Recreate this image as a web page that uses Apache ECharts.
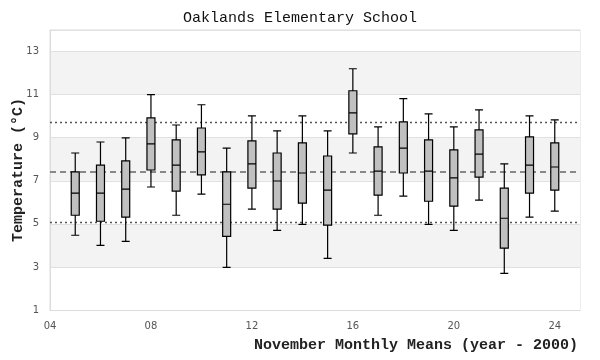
<!DOCTYPE html>
<html>
<head>
<meta charset="utf-8">
<script src="https://cdn.jsdelivr.net/npm/echarts@6/dist/echarts.min.js"></script>
<style>html,body{margin:0;padding:0;background:#fff}#c{width:600px;height:360px}</style>
</head>
<body>
<div id="c"></div>
<script>
const years = [5, 6, 7, 8, 9, 10, 11, 12, 13, 14, 15, 16, 17, 18, 19, 20, 21, 22, 23, 24];
const whiskerLow  = [4.47, 4.00, 4.19, 6.71, 5.40, 6.38, 2.98, 5.68, 4.70, 4.98, 3.40, 8.29, 5.40, 6.29, 4.98, 4.70, 6.10, 2.70, 5.31, 5.59];
const quartile1   = [5.40, 5.12, 5.31, 7.50, 6.52, 7.27, 4.42, 6.66, 5.68, 5.96, 4.94, 9.18, 6.33, 7.36, 6.05, 5.82, 7.17, 3.87, 6.43, 6.57];
const medians     = [6.43, 6.43, 6.61, 8.71, 7.73, 8.34, 5.91, 7.78, 6.99, 7.36, 6.57, 10.15, 7.45, 8.52, 7.45, 7.13, 8.24, 5.26, 7.73, 7.64];
const quartile3   = [7.41, 7.73, 7.92, 9.92, 8.90, 9.45, 7.41, 8.85, 8.29, 8.76, 8.15, 11.18, 8.57, 9.73, 8.90, 8.43, 9.36, 6.66, 9.04, 8.76];
const whiskerHigh = [8.29, 8.80, 8.99, 11.00, 9.59, 10.53, 8.52, 10.01, 9.32, 10.01, 9.32, 12.20, 9.50, 10.81, 10.11, 9.50, 10.29, 7.78, 10.01, 9.83];
const meanLine = [7.40];
const sigmaLines = [9.70, 5.08];
const xTickLabels = { 4: '04', 8: '08', 12: '12', 16: '16', 20: '20', 24: '24' };
const yTickLabels = [1, 3, 5, 7, 9, 11, 13];

const boxData = years.map((y, i) => [y, whiskerLow[i], quartile1[i], medians[i], quartile3[i], whiskerHigh[i]]);

const chart = echarts.init(document.getElementById('c'), null, { renderer: 'canvas' });
const monoFont = 'Liberation Mono';
chart.setOption({
  animation: false,
  title: {
    text: 'Oaklands Elementary School',
    left: 'center',
    top: 6,
    textStyle: { fontFamily: monoFont, fontSize: 15, fontWeight: 'normal', color: '#111' }
  },
  grid: {
    left: 50, right: 20, top: 30, bottom: 50,
    outerBoundsMode: 'none',
    containLabel: false,
    show: true, borderColor: '#dcdcdc', borderWidth: 1, backgroundColor: 'transparent'
  },
  xAxis: {
    type: 'value',
    min: 4, max: 25, interval: 4,
    name: 'November Monthly Means (year - 2000)',
    nameLocation: 'end',
    nameGap: -2,
    nameMoveOverlap: false,
    nameTextStyle: {
      fontFamily: monoFont, fontSize: 15, fontWeight: 'bold', color: '#222',
      align: 'right', verticalAlign: 'top', padding: [28, 0, 0, 0]
    },
    axisLine: { show: true, lineStyle: { color: '#dcdcdc' } },
    axisTick: { show: false },
    splitLine: { show: false },
    axisLabel: {
      margin: 11,
      fontFamily: 'DejaVu Sans', fontSize: 10, color: '#555',
      formatter: v => (xTickLabels[v] !== undefined ? xTickLabels[v] : '')
    }
  },
  yAxis: {
    type: 'value',
    min: 1, max: 14, interval: 2,
    name: 'Temperature (°C)',
    nameLocation: 'middle',
    nameGap: 24,
    nameMoveOverlap: false,
    nameTextStyle: { fontFamily: monoFont, fontSize: 15, fontWeight: 'bold', color: '#222' },
    axisLine: { show: true, lineStyle: { color: '#dcdcdc' } },
    axisTick: { show: false },
    splitLine: { show: true, lineStyle: { color: '#e0e0e0', width: 1 } },
    splitArea: { show: true, areaStyle: { color: ['#ffffff', '#f3f3f3'] } },
    axisLabel: {
      margin: 11,
      fontFamily: 'DejaVu Sans', fontSize: 10, color: '#555',
      formatter: v => (yTickLabels.indexOf(v) >= 0 ? String(v) : '')
    }
  },
  series: [{
    type: 'boxplot',
    z: 3,
    encode: { x: 0, y: [1, 2, 3, 4, 5] },
    data: boxData,
    boxWidth: [8, 8],
    itemStyle: { color: '#c0c0c0', borderColor: '#000', borderWidth: 1.2 },
    markLine: {
      z: 1,
      silent: true,
      symbol: 'none',
      label: { show: false },
      data: [
        { yAxis: meanLine[0], lineStyle: { type: [6, 4], color: '#666', width: 1.5 } },
        { yAxis: sigmaLines[0], lineStyle: { type: [2, 3], color: '#555', width: 1.3 } },
        { yAxis: sigmaLines[1], lineStyle: { type: [2, 3], color: '#555', width: 1.3 } }
      ]
    }
  }]
});
</script>
</body>
</html>
